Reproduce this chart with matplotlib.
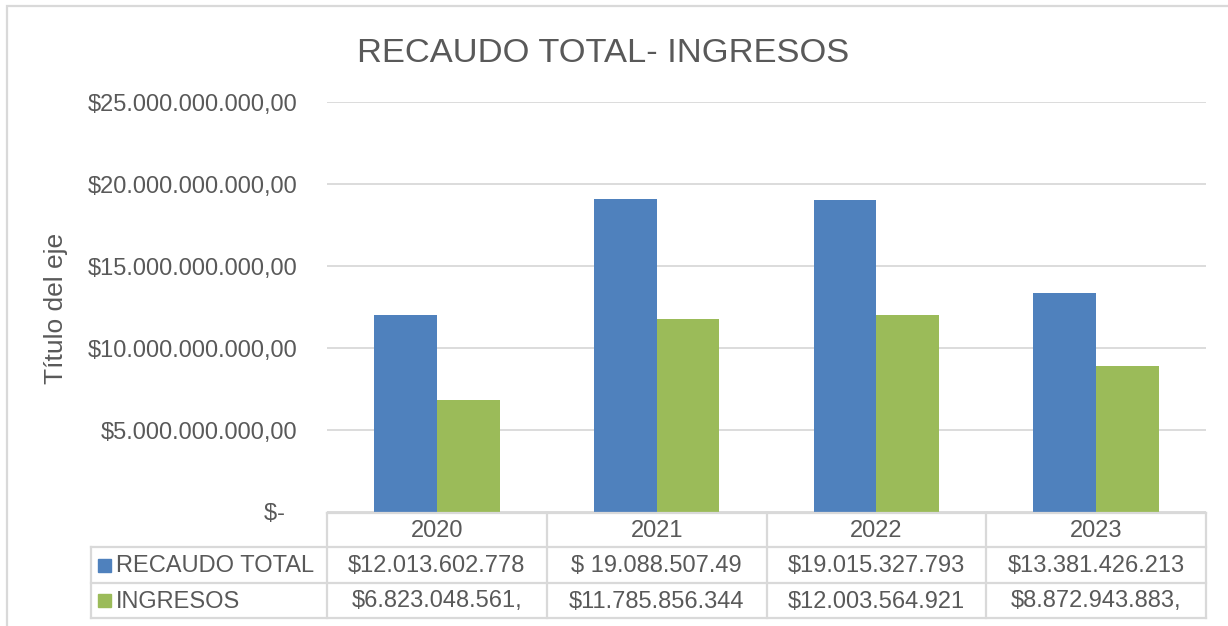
import numpy as np
import matplotlib.pyplot as plt
from matplotlib.ticker import FuncFormatter, MultipleLocator
from matplotlib.patches import Rectangle
from matplotlib.lines import Line2D

plt.rcParams['font.family'] = ['Liberation Sans', 'DejaVu Sans']

# Data
years = ['2020', '2021', '2022', '2023']
recaudo_total = [12013602778, 19088507490, 19015327793, 13381426213]
ingresos = [6823048561, 11785856344, 12003564921, 8872943883]
series_names = ['RECAUDO TOTAL', 'INGRESOS']
# cell texts as shown (truncated by the cell width)
recaudo_txt = ['$12.013.602.778', '$ 19.088.507.49', '$19.015.327.793', '$13.381.426.213']
ingresos_txt = ['$6.823.048.561,', '$11.785.856.344', '$12.003.564.921', '$8.872.943.883,']

blue = '#4F81BD'
green = '#9BBB59'
txt = '#595959'
grid = '#D9D9D9'

W, H = 1228, 626
fig = plt.figure(figsize=(W / 100, H / 100), dpi=100)

# plot area in pixels
left, right, top, bottom = 327, 1206, 102, 512
ax = fig.add_axes([left / W, 1 - bottom / H, (right - left) / W, (bottom - top) / H])

x = np.arange(len(years))
w = 1 / 3.5
ax.bar(x - w / 2, recaudo_total, w, color=blue, zorder=3)
ax.bar(x + w / 2, ingresos, w, color=green, zorder=3)

ax.set_xlim(-0.5, len(years) - 0.5)
ax.set_ylim(0, 25e9)
ax.yaxis.set_major_locator(MultipleLocator(5e9))


def pesos(v, pos):
    if v == 0:
        return '$-  '
    s = f'${v:,.2f}'
    return s.replace(',', '#').replace('.', ',').replace('#', '.')


ax.yaxis.set_major_formatter(FuncFormatter(pesos))
ax.tick_params(axis='y', length=0, pad=21, labelsize=17, labelcolor=txt)
ax.set_xticks([])
ax.grid(axis='y', color=grid, linewidth=1.3, zorder=0)
for sp in ax.spines.values():
    sp.set_visible(False)

fig.text(603 / W, 1 - 62 / H, 'RECAUDO TOTAL- INGRESOS', ha='center', va='baseline',
         fontsize=24.8, color=txt)
fig.text(56 / W, 1 - 308 / H, 'Título del eje', rotation=90, ha='center', va='center',
         fontsize=19, color=txt)


# data table under the axis, drawn in pixel coords
def px(xp, yp):
    return xp / W, 1 - yp / H


def hline(x0, x1, y):
    a, b = px(x0, y)
    c, d = px(x1, y)
    fig.add_artist(Line2D([a, c], [b, d], color=grid, linewidth=1.6))


def vline(xp, y0, y1):
    a, b = px(xp, y0)
    c, d = px(xp, y1)
    fig.add_artist(Line2D([a, c], [b, d], color=grid, linewidth=1.6))


rows = [513, 547, 583, 618]
tab_left = 91
cols = [left + (right - left) * i / len(years) for i in range(len(years) + 1)]

hline(left, right, rows[0])
for yy in rows[1:]:
    hline(tab_left, right, yy)
for xx in cols:
    vline(xx, rows[0], rows[-1])
vline(tab_left, rows[1], rows[-1])

for i, yr in enumerate(years):
    cx = (cols[i] + cols[i + 1]) / 2
    fig.text(*px(cx, (rows[0] + rows[1]) / 2 + 1), yr, ha='center', va='center',
             fontsize=17, color=txt)
    fig.text(*px(cx, (rows[1] + rows[2]) / 2 + 1), recaudo_txt[i], ha='center',
             va='center', fontsize=17, color=txt)
    fig.text(*px(cx, (rows[2] + rows[3]) / 2 + 1), ingresos_txt[i], ha='center',
             va='center', fontsize=17, color=txt)

for name, col, r in zip(series_names, [blue, green], [1, 2]):
    cy = (rows[r] + rows[r + 1]) / 2
    x0, y0 = px(98, cy + 6.5)
    fig.add_artist(Rectangle((x0, y0), 13 / W, 13 / H, color=col))
    fig.text(*px(116, cy + 1), name, ha='left', va='center', fontsize=17, color=txt)

# chart border
bx, by = px(7, 640)
fig.add_artist(Rectangle((bx, by), 1.2, 1 - 6 / H - by, fill=False, edgecolor=grid,
                         linewidth=1.6))

fig.savefig('out.png', dpi=100)
